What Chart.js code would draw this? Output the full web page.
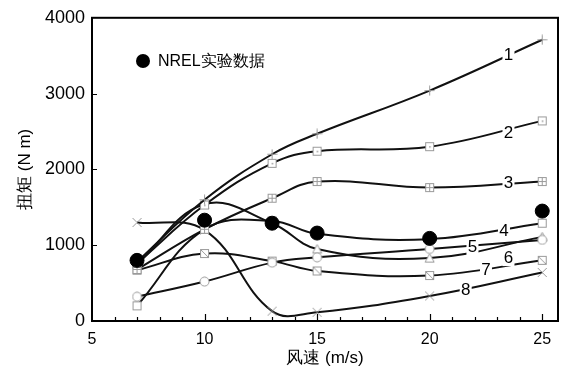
<!DOCTYPE html>
<html>
<head>
<meta charset="utf-8">
<script src="https://cdn.jsdelivr.net/npm/chart.js@4/dist/chart.umd.min.js"></script>
<style>
  html, body { margin: 0; padding: 0; background: #fff; }
  #wrap { width: 566px; height: 369px; }
</style>
</head>
<body>
<div id="wrap"><canvas id="torqueChart"></canvas></div>
<script>
// wind speed (m/s) and torque (N m)
const windSpeeds = [7, 10, 13, 15, 20, 25];
const model1 = [780, 1600, 2200, 2470, 3040, 3710];
const model2 = [760, 1530, 2080, 2240, 2300, 2640];
const model3 = [680, 1210, 1620, 1840, 1760, 1840];
const model4 = [200, 1210, 1320, 1150, 1080, 1290];
const model5 = [320, 520, 770, 840, 950, 1070];
const model6 = [750, 1540, 1290, 950, 830, 1110];
const model7 = [670, 890, 790, 660, 600, 800];
const model8 = [1300, 1200, 130, 115, 330, 640];
const nrelData = [800, 1330, 1290, 1160, 1090, 1450];

const xTicks = [5, 10, 15, 20, 25];
const yTicks = [0, 1000, 2000, 3000, 4000];
const curveNames = ["1", "2", "3", "4", "5", "6", "7", "8"];
// where each curve number sits (wind speed, torque)
const curveLabelPos = [[23.5, 3500], [23.5, 2470], [23.5, 1815], [23.3, 1180],
                       [21.9, 970], [23.5, 830], [22.5, 670], [21.6, 410]];

const FONT = "'Liberation Sans', Arial, sans-serif";
const GREY = "#9a9a9a";

// small open markers like the original print
function marker(kind) {
    const c = document.createElement("canvas");
    c.width = 11; c.height = 11;
    const g = c.getContext("2d");
    g.strokeStyle = GREY;
    g.lineWidth = 1;
    g.fillStyle = "#fff";
    const box = () => { g.fillRect(1.5, 1.5, 8, 8); g.strokeRect(1.5, 1.5, 8, 8); };
    g.beginPath();
    if (kind === "plus") {
        g.moveTo(5.5, 0.5); g.lineTo(5.5, 10.5); g.moveTo(0.5, 5.5); g.lineTo(10.5, 5.5); g.stroke();
    } else if (kind === "x") {
        g.moveTo(1, 1); g.lineTo(10, 10); g.moveTo(10, 1); g.lineTo(1, 10); g.stroke();
    } else if (kind === "circle") {
        g.arc(5.5, 5.5, 4.5, 0, Math.PI * 2); g.fill(); g.stroke();
    } else if (kind === "triangle") {
        g.moveTo(5.5, 1); g.lineTo(10, 9.5); g.lineTo(1, 9.5); g.closePath(); g.fill(); g.stroke();
    } else {
        box();
        g.beginPath();
        if (kind === "sqDot") { g.fillStyle = GREY; g.fillRect(5, 5, 1.5, 1.5); }
        if (kind === "sqPlus") { g.moveTo(5.5, 1.5); g.lineTo(5.5, 9.5); g.moveTo(1.5, 5.5); g.lineTo(9.5, 5.5); g.stroke(); }
        if (kind === "sqSlash") { g.moveTo(1.5, 1.5); g.lineTo(9.5, 9.5); g.stroke(); }
    }
    return c;
}

const modelSeries = [model1, model2, model3, model4, model5, model6, model7, model8];
const markerKinds = ["plus", "sqDot", "sqPlus", "sq", "circle", "triangle", "sqSlash", "x"];

const datasets = modelSeries.map((vals, i) => ({
    label: curveNames[i],
    data: windSpeeds.map((w, j) => ({ x: w, y: vals[j] })),
    showLine: true,
    borderColor: "#111",
    borderWidth: 2,
    tension: 0.4,
    pointStyle: marker(markerKinds[i]),
    pointRadius: 5,
    fill: false,
}));
datasets.push({
    label: "NREL实验数据",
    data: windSpeeds.map((w, j) => ({ x: w, y: nrelData[j] })),
    showLine: false,
    order: -1,
    pointStyle: "circle",
    pointRadius: 7,
    pointBackgroundColor: "#000",
    pointBorderColor: "#000",
});

const extras = {
    id: "extras",
    afterDatasetsDraw(chart) {
        const { ctx, chartArea: a, scales: { x, y } } = chart;
        ctx.save();
        // curve numbers, breaking the line behind them
        ctx.font = "17px " + FONT;
        ctx.textAlign = "center";
        ctx.textBaseline = "middle";
        curveLabelPos.forEach((p, i) => {
            const px = x.getPixelForValue(p[0]), py = y.getPixelForValue(p[1]);
            ctx.fillStyle = "#fff";
            ctx.fillRect(px - 6, py - 8, 12, 16);
            ctx.fillStyle = "#000";
            ctx.fillText(curveNames[i], px, py);
        });
        // legend
        ctx.fillStyle = "#000";
        ctx.beginPath();
        ctx.arc(143, 61, 7, 0, Math.PI * 2);
        ctx.fill();
        ctx.textAlign = "left";
        ctx.font = "16px " + FONT;
        ctx.fillText("NREL实验数据", 158, 62);
        // frame and inward ticks
        ctx.strokeStyle = "#000";
        ctx.lineWidth = 2;
        ctx.strokeRect(a.left, a.top, a.right - a.left, a.bottom - a.top);
        ctx.lineWidth = 1.2;
        ctx.beginPath();
        for (let v = 6; v <= 25; v++) {
            const px = Math.round(x.getPixelForValue(v)) + 0.5;
            const len = v % 5 === 0 ? 7 : 4;
            ctx.moveTo(px, a.bottom); ctx.lineTo(px, a.bottom - len);
        }
        yTicks.slice(1, -1).forEach(v => {
            const py = Math.round(y.getPixelForValue(v)) + 0.5;
            ctx.moveTo(a.left, py); ctx.lineTo(a.left + 5, py);
        });
        ctx.stroke();
        ctx.restore();
    }
};

new Chart(document.getElementById("torqueChart"), {
    type: "scatter",
    data: { datasets },
    plugins: [extras],
    options: {
        responsive: true,
        maintainAspectRatio: false,
        animation: false,
        layout: { padding: { left: 0, top: 17, right: 3, bottom: 0 } },
        plugins: { legend: { display: false }, tooltip: { enabled: false } },
        scales: {
            x: {
                type: "linear",
                min: 5,
                max: 25.7,
                afterBuildTicks: s => { s.ticks = xTicks.map(v => ({ value: v })); },
                afterFit: s => { s.height = 48; },
                grid: { display: false, drawTicks: false },
                border: { display: false },
                ticks: { color: "#000", padding: 9, font: { family: FONT, size: 16 },
                         callback: v => String(v) },
                title: { display: true, text: "风速 (m/s)", color: "#000",
                         padding: { top: 0, bottom: 0 }, font: { family: FONT, size: 17 } },
            },
            y: {
                min: 0,
                max: 4000,
                afterBuildTicks: s => { s.ticks = yTicks.map(v => ({ value: v })); },
                afterFit: s => { s.width = 92; },
                grid: { display: false, drawTicks: false },
                border: { display: false },
                ticks: { color: "#000", padding: 7, font: { family: FONT, size: 18 },
                         callback: v => String(v) },
                title: { display: true, text: "扭矩 (N m)", color: "#000",
                         padding: { top: 15, bottom: 0 }, font: { family: FONT, size: 17 } },
            },
        },
    },
});
</script>
</body>
</html>
